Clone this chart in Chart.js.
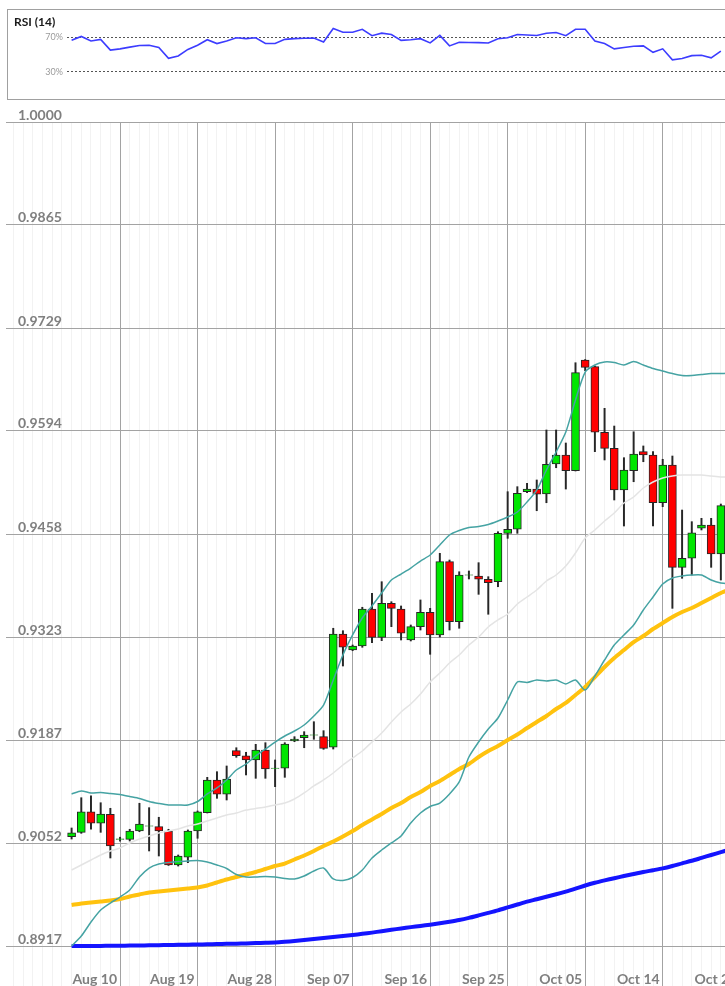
<!DOCTYPE html>
<html>
<head>
<meta charset="utf-8">
<title>Daily chart with RSI (14)</title>
<script src="https://cdn.jsdelivr.net/npm/chart.js@4.4.1/dist/chart.umd.min.js"></script>
<style>
  html, body { margin: 0; padding: 0; background: #fff; overflow: hidden; }
  #page { position: relative; width: 725px; height: 986px; overflow: hidden; }
  #rsi-box { position: absolute; left: 7px; top: 9px; width: 780px; height: 89px; border: 1px solid #a0a0a0; }
  #rsi-title { position: absolute; left: 14px; top: 14px; font: bold 12px Lato, sans-serif; color: #1a1a1a; }
  #rsi-chart { position: absolute; left: 0; top: 0; }
  #price-chart { position: absolute; left: 0; top: 100px; }
</style>
</head>
<body>
<div id="page">
  <div id="rsi-box"></div>
  <canvas id="price-chart" width="760" height="886"></canvas>
  <canvas id="rsi-chart" width="760" height="112"></canvas>
  <div id="rsi-title">RSI (14)</div>
</div>
<script>
// ---------------- data (one candle per trading day) ----------------
const opens = [0.90607, 0.90664, 0.90935, 0.90783, 0.90901, 0.90570, 0.90572, 0.90681, 0.90745, 0.90738,
  0.90681, 0.90235, 0.90336, 0.90681, 0.90922, 0.91352, 0.91164, 0.91737, 0.91671, 0.91615,
  0.91746, 0.91503, 0.91506, 0.91864, 0.91908, 0.91940, 0.91921, 0.91782, 0.93271, 0.93060,
  0.93113, 0.93599, 0.93227, 0.93674, 0.93599, 0.93192, 0.93367, 0.93556, 0.93258, 0.94221,
  0.93432, 0.94043, 0.94033, 0.93990, 0.93958, 0.94594, 0.94647, 0.95141, 0.95176, 0.95111,
  0.95505, 0.95623, 0.95417, 0.96872, 0.96784, 0.95922, 0.95711, 0.95163, 0.95417, 0.95667,
  0.95623, 0.94996, 0.95492, 0.94147, 0.94266, 0.94660, 0.94703, 0.94322];
const highs = [0.90721, 0.91119, 0.91145, 0.91053, 0.90980, 0.90600, 0.90704, 0.91046, 0.90988, 0.90862,
  0.90704, 0.90366, 0.90695, 0.90944, 0.91387, 0.91461, 0.91536, 0.91776, 0.91716, 0.91821,
  0.91842, 0.91615, 0.91842, 0.91921, 0.91987, 0.92118, 0.92000, 0.93346, 0.93314, 0.93126,
  0.93622, 0.93806, 0.93958, 0.93695, 0.93639, 0.93389, 0.93718, 0.93608, 0.94331, 0.94243,
  0.94089, 0.94099, 0.94208, 0.94024, 0.94615, 0.95141, 0.95207, 0.95251, 0.95295, 0.95952,
  0.95952, 0.95781, 0.96836, 0.96878, 0.96793, 0.96237, 0.96004, 0.95588, 0.95929, 0.95742,
  0.95667, 0.95567, 0.95610, 0.94900, 0.94747, 0.94791, 0.94791, 0.94979];
const lows = [0.90576, 0.90651, 0.90704, 0.90664, 0.90327, 0.90548, 0.90550, 0.90672, 0.90419, 0.90353,
  0.90229, 0.90221, 0.90265, 0.90586, 0.90918, 0.91111, 0.91089, 0.91650, 0.91418, 0.91374,
  0.91374, 0.91264, 0.91387, 0.91855, 0.91776, 0.91887, 0.91755, 0.91759, 0.92850, 0.93051,
  0.93096, 0.93156, 0.93183, 0.93367, 0.93192, 0.93179, 0.93323, 0.93004, 0.93231, 0.93323,
  0.93346, 0.93994, 0.93792, 0.93530, 0.93892, 0.94528, 0.94594, 0.95128, 0.94891, 0.94996,
  0.95456, 0.95176, 0.95413, 0.96731, 0.95667, 0.95558, 0.95032, 0.94690, 0.95272, 0.95535,
  0.94690, 0.94944, 0.93608, 0.94003, 0.94046, 0.94638, 0.94147, 0.93980];
const closes = [0.90659, 0.90935, 0.90783, 0.90905, 0.90484, 0.90578, 0.90681, 0.90773, 0.90750, 0.90681,
  0.90235, 0.90353, 0.90681, 0.90935, 0.91352, 0.91164, 0.91365, 0.91671, 0.91615, 0.91746,
  0.91496, 0.91509, 0.91825, 0.91891, 0.91943, 0.91946, 0.91768, 0.93271, 0.93096, 0.93113,
  0.93599, 0.93227, 0.93674, 0.93608, 0.93280, 0.93367, 0.93556, 0.93258, 0.94221, 0.93432,
  0.94046, 0.94049, 0.93990, 0.93945, 0.94594, 0.94647, 0.95120, 0.95176, 0.95107, 0.95501,
  0.95623, 0.95417, 0.96705, 0.96776, 0.95922, 0.95711, 0.95163, 0.95426, 0.95636, 0.95623,
  0.94996, 0.95492, 0.94147, 0.94266, 0.94602, 0.94703, 0.94322, 0.94957];

// Bollinger bands (20) and moving averages
const upperBand = [0.91168, 0.91207, 0.91181, 0.91187, 0.91174, 0.91161, 0.91135, 0.91109, 0.91069, 0.91043,
  0.91023, 0.91023, 0.91023, 0.91069, 0.91168, 0.91247, 0.91352, 0.91483, 0.91562, 0.91667,
  0.91759, 0.91851, 0.91930, 0.91996, 0.92075, 0.92193, 0.92337, 0.92666, 0.92995, 0.93258,
  0.93481, 0.93639, 0.93810, 0.93980, 0.94059, 0.94138, 0.94230, 0.94309, 0.94440, 0.94572,
  0.94631, 0.94670, 0.94684, 0.94710, 0.94756, 0.94808, 0.94874, 0.95006, 0.95163, 0.95426,
  0.95663, 0.95925, 0.96346, 0.96714, 0.96806, 0.96846, 0.96839, 0.96806, 0.96852, 0.96806,
  0.96760, 0.96727, 0.96694, 0.96668, 0.96668, 0.96681, 0.96694, 0.96694, 0.96701];
const middleBand = [0.90169, 0.90235, 0.90300, 0.90366, 0.90419, 0.90458, 0.90524, 0.90576, 0.90616, 0.90655,
  0.90681, 0.90708, 0.90747, 0.90773, 0.90813, 0.90852, 0.90892, 0.90918, 0.90957, 0.90977,
  0.90997, 0.91023, 0.91049, 0.91102, 0.91181, 0.91273, 0.91352, 0.91444, 0.91549, 0.91641,
  0.91733, 0.91851, 0.91970, 0.92114, 0.92246, 0.92351, 0.92482, 0.92640, 0.92758, 0.92890,
  0.92995, 0.93126, 0.93231, 0.93363, 0.93455, 0.93534, 0.93665, 0.93757, 0.93849, 0.93967,
  0.94046, 0.94164, 0.94335, 0.94532, 0.94638, 0.94756, 0.94861, 0.94992, 0.95071, 0.95190,
  0.95268, 0.95321, 0.95347, 0.95360, 0.95360, 0.95360, 0.95347, 0.95334, 0.95334];
const lowerBand = [0.89170, 0.89301, 0.89485, 0.89643, 0.89735, 0.89814, 0.89906, 0.90077, 0.90195, 0.90248,
  0.90267, 0.90281, 0.90287, 0.90294, 0.90274, 0.90235, 0.90189, 0.90110, 0.90077, 0.90077,
  0.90083, 0.90077, 0.90057, 0.90051, 0.90090, 0.90156, 0.90195, 0.90051, 0.90031, 0.90070,
  0.90169, 0.90327, 0.90432, 0.90524, 0.90616, 0.90787, 0.90918, 0.91004, 0.91049, 0.91168,
  0.91326, 0.91654, 0.91851, 0.92022, 0.92167, 0.92403, 0.92640, 0.92633, 0.92666, 0.92653,
  0.92666, 0.92614, 0.92666, 0.92535, 0.92719, 0.92929, 0.93126, 0.93258, 0.93389, 0.93586,
  0.93757, 0.93928, 0.94007, 0.94033, 0.94046, 0.94046, 0.93980, 0.93941, 0.93928];
const sma50 = [0.89709, 0.89729, 0.89742, 0.89755, 0.89768, 0.89788, 0.89821, 0.89847, 0.89873, 0.89886,
  0.89899, 0.89913, 0.89926, 0.89939, 0.89965, 0.90005, 0.90044, 0.90077, 0.90110, 0.90143,
  0.90182, 0.90221, 0.90254, 0.90307, 0.90359, 0.90419, 0.90484, 0.90543, 0.90609, 0.90681,
  0.90760, 0.90833, 0.90905, 0.90984, 0.91049, 0.91128, 0.91194, 0.91273, 0.91339, 0.91418,
  0.91496, 0.91562, 0.91654, 0.91733, 0.91799, 0.91877, 0.91950, 0.92035, 0.92114, 0.92193,
  0.92285, 0.92364, 0.92469, 0.92574, 0.92705, 0.92837, 0.92955, 0.93060, 0.93165, 0.93244,
  0.93336, 0.93415, 0.93494, 0.93560, 0.93612, 0.93678, 0.93744, 0.93810, 0.93862];
const sma200 = [0.89170, 0.89170, 0.89170, 0.89171, 0.89173, 0.89174, 0.89175, 0.89177, 0.89179, 0.89181,
  0.89183, 0.89186, 0.89187, 0.89190, 0.89192, 0.89195, 0.89198, 0.89200, 0.89204, 0.89208,
  0.89212, 0.89216, 0.89225, 0.89236, 0.89248, 0.89261, 0.89275, 0.89288, 0.89301, 0.89315,
  0.89330, 0.89346, 0.89365, 0.89383, 0.89401, 0.89418, 0.89434, 0.89450, 0.89468, 0.89489,
  0.89512, 0.89540, 0.89572, 0.89605, 0.89639, 0.89677, 0.89715, 0.89754, 0.89785, 0.89818,
  0.89850, 0.89885, 0.89924, 0.89965, 0.90001, 0.90032, 0.90061, 0.90090, 0.90116, 0.90143,
  0.90166, 0.90190, 0.90221, 0.90256, 0.90290, 0.90328, 0.90366, 0.90403, 0.90441];

const rsi14 = [66.3, 70.8, 65.5, 67.4, 55.0, 56.5, 58.5, 60.3, 60.7, 58.0,
  45.7, 48.3, 55.8, 60.7, 67.0, 62.6, 65.5, 69.3, 68.2, 69.3,
  62.6, 62.6, 67.4, 68.2, 68.6, 68.9, 64.4, 79.8, 75.6, 75.6,
  79.0, 71.6, 74.5, 73.0, 66.3, 67.0, 68.2, 63.3, 71.9, 59.9,
  64.0, 63.8, 63.6, 63.3, 68.2, 69.3, 73.0, 72.5, 71.9, 74.5,
  75.3, 71.6, 79.0, 79.0, 65.5, 62.6, 56.5, 58.1, 59.5, 59.9,
  52.5, 56.5, 43.8, 45.3, 48.7, 49.1, 46.1, 53.9];

// axis ticks
const dateTickIndex = [5, 13, 21, 29, 37, 45, 53, 61, 69];
const dateTickLabels = ['Aug 10', 'Aug 19', 'Aug 28', 'Sep 07', 'Sep 16', 'Sep 25', 'Oct 05', 'Oct 14', 'Oct 23'];
const priceTicks = [1.0000, 0.9865, 0.9729, 0.9594, 0.9458, 0.9323, 0.9187, 0.9052, 0.8917];
const rsiLevels = [30, 70];

// ---------------- helpers ----------------
const xy = arr => arr.map((v, i) => ({ x: i, y: v }));
const dayGrid = [];
for (let i = -6; i <= 71; i++) dayGrid.push(i);

const GREEN = '#00e600';
const RED = '#ff0000';
const labelFont = { family: 'Lato', size: 14, weight: 'bold' };

Chart.defaults.font.family = 'Lato';

// ---------------- price chart ----------------
new Chart(document.getElementById('price-chart'), {
  type: 'bar',
  data: {
    datasets: [
      {
        type: 'line', label: 'Upper band', data: xy(upperBand), order: 0,
        borderColor: '#45a3a3', borderWidth: 1.5, pointRadius: 0, tension: 0.25
      },
      {
        type: 'line', label: 'Lower band', data: xy(lowerBand), order: 0,
        borderColor: '#45a3a3', borderWidth: 1.5, pointRadius: 0, tension: 0.25
      },
      {
        type: 'line', label: 'Middle band', data: xy(middleBand), order: 1,
        borderColor: '#e4e4e4', borderWidth: 1.5, pointRadius: 0, tension: 0.25
      },
      {
        type: 'line', label: 'SMA 50', data: xy(sma50), order: 1,
        borderColor: '#ffc20e', borderWidth: 4, pointRadius: 0, tension: 0.25
      },
      {
        type: 'line', label: 'SMA 200', data: xy(sma200), order: 1,
        borderColor: '#1414ff', borderWidth: 4, pointRadius: 0, tension: 0.25
      },
      {
        label: 'Body',
        data: opens.map((o, i) => ({ x: i, y: [o, closes[i]] })),
        backgroundColor: opens.map((o, i) => closes[i] >= o ? GREEN : RED),
        borderColor: '#262626', borderWidth: 1, borderSkipped: false,
        barThickness: 8, grouped: false, order: 2
      },
      {
        label: 'Wick',
        data: lows.map((l, i) => ({ x: i, y: [l, highs[i]] })),
        backgroundColor: '#262626', borderWidth: 0,
        barThickness: 1.3, grouped: false, order: 3
      }
    ]
  },
  options: {
    responsive: false,
    animation: false,
    events: [],
    layout: { padding: { left: 6, top: 22, right: 0, bottom: 0 } },
    plugins: { legend: { display: false }, tooltip: { enabled: false } },
    scales: {
      x: {
        type: 'linear', min: -6.77, max: 71.04, offset: false,
        afterBuildTicks: s => { s.ticks = dayGrid.map(v => ({ value: v })); },
        afterFit: s => { s.height = 26; },
        grid: {
          offset: false, drawTicks: true, tickLength: 26, lineWidth: 1,
          color: ctx => dateTickIndex.includes(ctx.tick.value) ? '#a3a3a3' : '#f2f2f2'
        },
        border: { display: false },
        ticks: {
          autoSkip: false, maxRotation: 0, align: 'end', labelOffset: -3, padding: -15,
          color: '#7f7f7f', font: labelFont,
          callback: v => {
            const k = dateTickIndex.indexOf(v);
            return k >= 0 ? dateTickLabels[k] : '';
          }
        }
      },
      y: {
        min: 0.88986, max: 1.0,
        afterBuildTicks: s => { s.ticks = priceTicks.map(v => ({ value: v })); },
        afterFit: s => { s.width = 0; },
        grid: { color: '#a3a3a3', lineWidth: 1, drawTicks: false },
        border: { display: false },
        ticks: {
          mirror: true, padding: 12, labelOffset: -7,
          color: '#7f7f7f', font: labelFont,
          callback: v => v.toFixed(4)
        }
      }
    }
  }
});

// ---------------- RSI panel ----------------
// canvas is a little taller than the box so the 0..100 range sits on y 11..98
new Chart(document.getElementById('rsi-chart'), {
  type: 'line',
  data: {
    datasets: [{
      label: 'RSI (14)', data: xy(rsi14),
      borderColor: '#3c3cff', borderWidth: 1.6, pointRadius: 0, tension: 0
    }]
  },
  options: {
    responsive: false,
    animation: false,
    events: [],
    layout: { padding: { left: 0, top: 11, right: 0, bottom: 14 } },
    plugins: { legend: { display: false }, tooltip: { enabled: false } },
    scales: {
      x: { type: 'linear', min: -0.475, max: 71.04, display: false },
      y: {
        min: 0, max: 100,
        afterBuildTicks: s => { s.ticks = rsiLevels.map(v => ({ value: v })); },
        afterFit: s => { s.width = 67; },
        grid: { color: '#555555', lineWidth: 1, drawTicks: false },
        border: { display: false, dash: [2, 2] },
        ticks: {
          padding: 4, color: '#9a9a9a', font: { family: 'Lato', size: 9 },
          callback: v => v + '%'
        }
      }
    }
  }
});
</script>
</body>
</html>
